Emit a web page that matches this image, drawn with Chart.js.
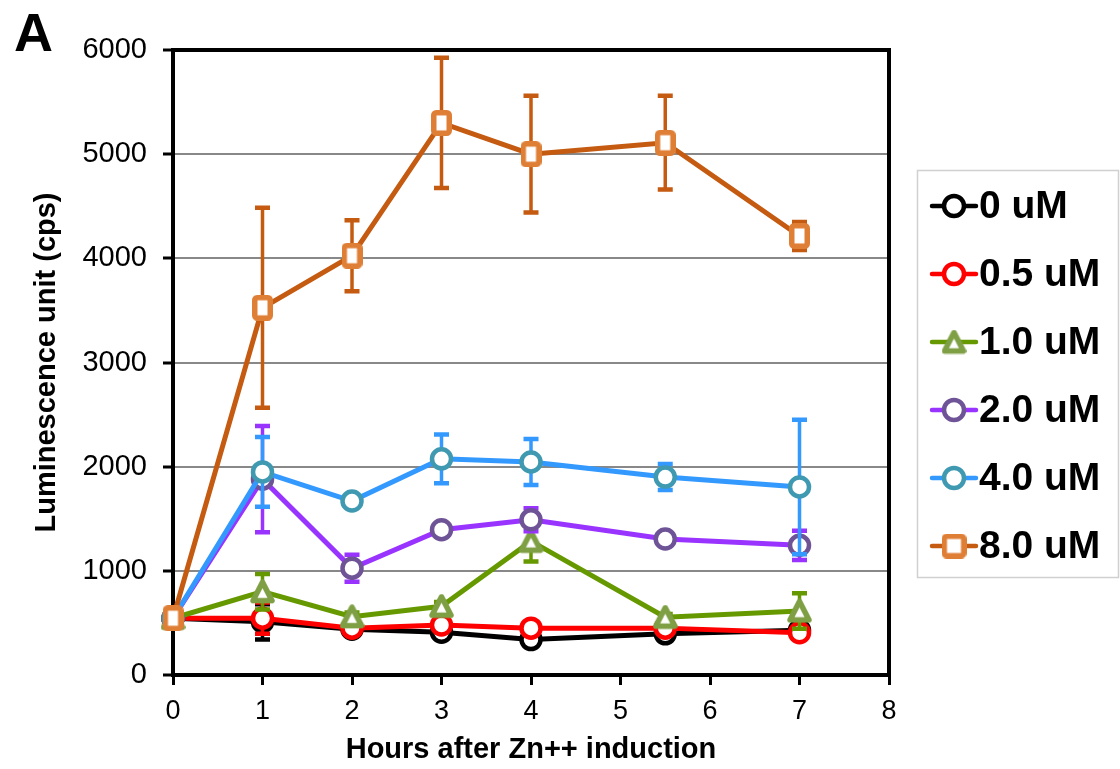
<!DOCTYPE html>
<html>
<head>
<meta charset="utf-8">
<script src="https://cdn.jsdelivr.net/npm/chart.js@4/dist/chart.umd.min.js"></script>
<style>
  html, body { margin: 0; padding: 0; background: #ffffff; }
  #wrap { width: 1120px; height: 769px; position: relative; }
</style>
</head>
<body>
<div id="wrap"><canvas id="c" width="1120" height="769"></canvas></div>
<script>
// ---- data ----
const hours = [0, 1, 2, 3, 4, 5.5, 7];
const seriesLabels = ['0 uM', '0.5 uM', '1.0 uM', '2.0 uM', '4.0 uM', '8.0 uM'];
const xTicks = [0, 1, 2, 3, 4, 5, 6, 7, 8];
const yTicks = [0, 1000, 2000, 3000, 4000, 5000, 6000];

const uM0      = [545, 510, 440, 410, 340, 395, 430];
const uM0Err   = [0, 170, 20, 20, 20, 20, 20];
const uM05     = [545, 545, 450, 480, 450, 450, 405];
const uM05Err  = [0, 150, 20, 30, 20, 20, 30];
const uM10     = [545, 800, 560, 660, 1285, 555, 615];
const uM10Err  = [0, 170, 40, 40, 195, 30, 170];
const uM20     = [545, 1880, 1025, 1395, 1490, 1305, 1245];
const uM20Err  = [0, 510, 130, 40, 110, 30, 140];
const uM40     = [545, 1950, 1670, 2075, 2045, 1900, 1805];
const uM40Err  = [0, 335, 30, 235, 220, 125, 645];
const uM80     = [545, 3525, 4025, 5300, 5000, 5110, 4215];
const uM80Err  = [0, 960, 340, 625, 560, 450, 135];

// ---- styles ----
const FONT = "'Liberation Sans', Arial, sans-serif";
const lineColors   = ['#000000', '#FF0000', '#669900', '#9933FF', '#3399FF', '#C55A11'];
const markerColors = ['#000000', '#FF0000', '#7F9F45', '#6E5396', '#3F99B1', '#DF7F36'];

function makeSquare(color, w, h) {
  const c = document.createElement('canvas');
  c.width = w; c.height = h;
  const g = c.getContext('2d');
  const bw = 5.5;
  g.lineWidth = bw; g.strokeStyle = color; g.fillStyle = '#ffffff';
  g.lineJoin = 'round';
  g.beginPath();
  g.roundRect(bw / 2, bw / 2, w - bw, h - bw, 2.5);
  g.fill(); g.stroke();
  return c;
}
function makeTriangle(color, s) {
  const c = document.createElement('canvas');
  c.width = s; c.height = s;
  const g = c.getContext('2d');
  const bw = 5.5;
  g.lineWidth = bw; g.strokeStyle = color; g.fillStyle = '#ffffff';
  g.lineJoin = 'round';
  g.beginPath();
  g.moveTo(s / 2, 3);
  g.lineTo(s - 3, s - 3.5);
  g.lineTo(3, s - 3.5);
  g.closePath();
  g.fill(); g.stroke();
  return c;
}
const triMarker = makeTriangle(markerColors[2], 25);
const sqMarker = makeSquare(markerColors[5], 21, 26);
const sqLegend = makeSquare(markerColors[5], 25, 25);

const values = [uM0, uM05, uM10, uM20, uM40, uM80];
const errors = [uM0Err, uM05Err, uM10Err, uM20Err, uM40Err, uM80Err];
const styles = ['circle', 'circle', triMarker, 'circle', 'circle', sqMarker];

const datasets = seriesLabels.map((lab, k) => ({
  label: lab,
  data: hours.map((h, i) => ({ x: h, y: values[k][i] })),
  errors: errors[k],
  borderColor: lineColors[k],
  backgroundColor: lineColors[k],
  borderWidth: 5,
  pointStyle: styles[k],
  pointRadius: 9.5,
  pointBorderWidth: 4.5,
  pointBorderColor: markerColors[k],
  pointBackgroundColor: '#ffffff',
  tension: 0,
  clip: false,
  order: seriesLabels.length - k
}));

// error bars drawn under each series
const errorBars = {
  id: 'errorBars',
  beforeDatasetDraw(chart, args) {
    const ds = chart.data.datasets[args.index];
    const ys = chart.scales.y;
    const ctx = chart.ctx;
    ctx.save();
    ctx.strokeStyle = ds.borderColor;
    args.meta.data.forEach((pt, i) => {
      const e = ds.errors[i];
      if (!e) return;
      const v = ds.data[i].y;
      const yTop = ys.getPixelForValue(v + e);
      const yBot = ys.getPixelForValue(v - e);
      ctx.lineWidth = 3.5;
      ctx.beginPath();
      ctx.moveTo(pt.x, yTop); ctx.lineTo(pt.x, yBot);
      ctx.stroke();
      ctx.lineWidth = 4.5;
      ctx.beginPath();
      ctx.moveTo(pt.x - 7.5, yTop); ctx.lineTo(pt.x + 7.5, yTop);
      ctx.moveTo(pt.x - 7.5, yBot); ctx.lineTo(pt.x + 7.5, yBot);
      ctx.stroke();
    });
    ctx.restore();
  }
};

// plot frame
const frame = {
  id: 'frame',
  beforeDatasetsDraw(chart) {
    const { ctx, chartArea: a } = chart;
    ctx.save();
    ctx.strokeStyle = '#000000';
    ctx.lineWidth = 4;
    ctx.strokeRect(a.left, a.top, a.right - a.left, a.bottom - a.top);
    ctx.restore();
  }
};

// panel letter + legend
const extras = {
  id: 'extras',
  afterDraw(chart) {
    const ctx = chart.ctx;
    ctx.save();
    ctx.fillStyle = '#000000';
    ctx.font = 'bold 54px ' + FONT;
    ctx.textBaseline = 'alphabetic';
    ctx.textAlign = 'left';
    ctx.fillText('A', 14, 51);

    // legend box
    ctx.strokeStyle = '#d0d0d0';
    ctx.lineWidth = 1.5;
    ctx.strokeRect(917.5, 170.5, 201, 407);

    const rowY0 = 206, rowStep = 68;
    chart.data.datasets.forEach((ds, k) => {
      const y = rowY0 + k * rowStep;
      ctx.strokeStyle = ds.borderColor;
      ctx.lineWidth = 4.5;
      ctx.lineCap = 'round';
      ctx.beginPath();
      ctx.moveTo(932, y); ctx.lineTo(976, y);
      ctx.stroke();
      ctx.lineCap = 'butt';
      ctx.fillStyle = '#ffffff';
      ctx.strokeStyle = ds.pointBorderColor;
      ctx.lineWidth = 4.5;
      let ps = ds.pointStyle;
      if (ps === sqMarker) ps = sqLegend;
      Chart.helpers.drawPoint(ctx, { pointStyle: ps, radius: 10, rotation: 0, borderWidth: 4.5 }, 954, y);
      ctx.fillStyle = '#000000';
      ctx.font = 'bold 39px ' + FONT;
      ctx.textBaseline = 'middle';
      ctx.textAlign = 'left';
      ctx.fillText(ds.label, 979, y + 1);
    });
    ctx.restore();
  }
};

new Chart(document.getElementById('c'), {
  type: 'line',
  data: { datasets },
  options: {
    responsive: false,
    animation: false,
    devicePixelRatio: 1,
    layout: { padding: { top: 50, right: 231, left: 0, bottom: 0 } },
    plugins: { legend: { display: false }, tooltip: { enabled: false } },
    scales: {
      x: {
        type: 'linear',
        min: 0, max: 8,
        afterFit(s) { s.height = 94; },
        afterBuildTicks(s) { s.ticks = xTicks.map(v => ({ value: v })); },
        ticks: { color: '#000000', font: { family: FONT, size: 27 }, padding: 10, callback: v => String(v) },
        grid: { drawOnChartArea: false, drawTicks: true, tickLength: 10, tickColor: '#000000', tickWidth: 3 },
        border: { display: false },
        title: { display: true, text: 'Hours after Zn++ induction', color: '#000000',
                 font: { family: FONT, size: 29, weight: 'bold' }, padding: { top: 0, bottom: 2 } }
      },
      y: {
        type: 'linear',
        min: 0, max: 6000,
        afterFit(s) { s.width = 173; },
        afterBuildTicks(s) { s.ticks = yTicks.map(v => ({ value: v })); },
        ticks: { color: '#000000', font: { family: FONT, size: 29 }, padding: 16, callback: v => String(v) },
        grid: {
          color: ctx => (ctx.tick && (ctx.tick.value === 0 || ctx.tick.value === 6000)) ? 'rgba(0,0,0,0)' : '#888888',
          lineWidth: 2,
          drawTicks: true, tickLength: 10, tickColor: '#000000', tickWidth: 3
        },
        border: { display: false },
        title: { display: true, text: 'Luminescence unit (cps)', color: '#000000',
                 font: { family: FONT, size: 29, weight: 'bold' }, padding: { top: 30, bottom: 0 } }
      }
    }
  },
  plugins: [errorBars, frame, extras]
});
</script>
</body>
</html>
